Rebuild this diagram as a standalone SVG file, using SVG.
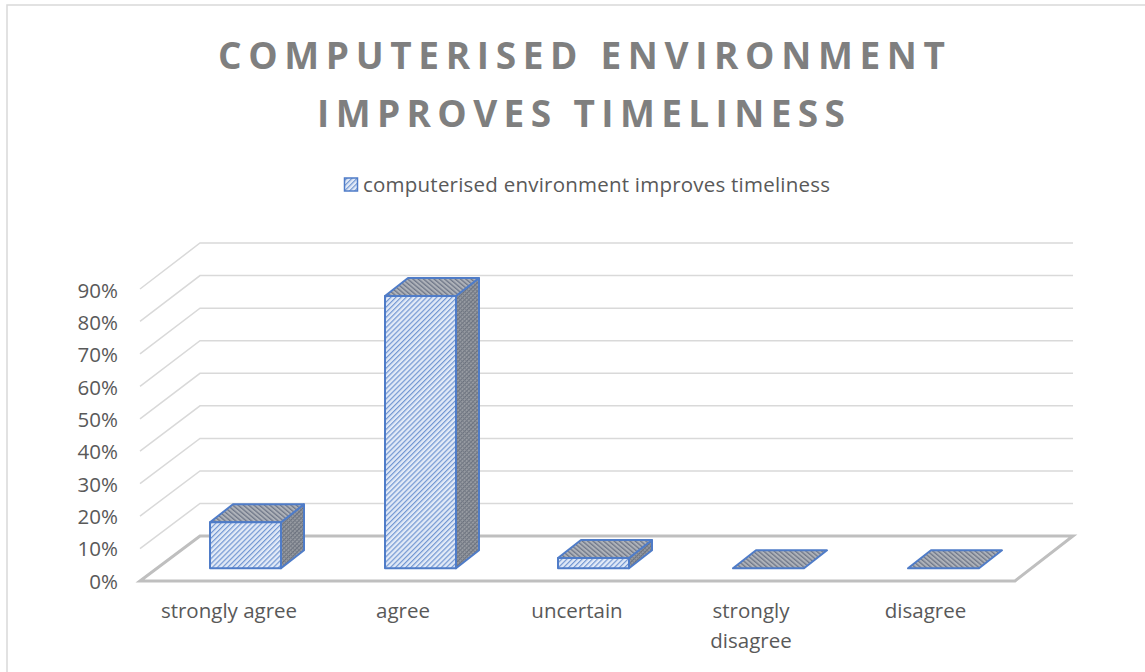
<svg xmlns="http://www.w3.org/2000/svg" width="1145" height="672" viewBox="0 0 1145 672">
<style>
.grid{stroke:#d9d9d9;stroke-width:1.5;fill:none}
.floor{stroke:#bfbfbf;stroke-width:3;fill:none;stroke-linejoin:miter}
.ax{font-family:"Open Sans","Liberation Sans",sans-serif;font-size:20.5px;fill:#595959}
.title{font-family:"Open Sans","Liberation Sans",sans-serif;font-size:37px;font-weight:bold;fill:#7f7f7f}
.front{fill:url(#pFront);stroke:#4f7cc8;stroke-width:2;stroke-linejoin:round}
.top{fill:url(#pTop);stroke:#4f7cc8;stroke-width:2;stroke-linejoin:round}
.side{fill:url(#pSide);stroke:#4f7cc8;stroke-width:2;stroke-linejoin:round}
</style>
<defs>
<pattern id="pFront" patternUnits="userSpaceOnUse" width="3.6" height="3.6" patternTransform="rotate(45)">
<rect width="3.6" height="3.6" fill="#e2eaf7"/>
<rect x="0" y="0" width="1.2" height="3.6" fill="#7196d2"/>
</pattern>
<pattern id="pTop" patternUnits="userSpaceOnUse" width="3.4" height="3.4" patternTransform="rotate(-50)">
<rect width="3.4" height="3.4" fill="#aeb2b9"/>
<rect x="0" y="0" width="1.3" height="3.4" fill="#6f7788"/>
</pattern>
<pattern id="pSide" patternUnits="userSpaceOnUse" width="3" height="3" patternTransform="rotate(45)">
<rect width="3" height="3" fill="#969aa1"/>
<rect x="0" y="0" width="1" height="3" fill="#6a707c"/>
<rect x="0" y="0" width="3" height="1" fill="#787e89"/>
</pattern>
</defs>
<rect x="7" y="5" width="1150" height="680" fill="#ffffff" stroke="#d9d9d9" stroke-width="1.5"/>
<g id="title">
<text class="title" x="581.5" y="69" text-anchor="middle" textLength="727" lengthAdjust="spacing">COMPUTERISED ENVIRONMENT</text>
<text class="title" x="581" y="127" text-anchor="middle" textLength="528" lengthAdjust="spacing">IMPROVES TIMELINESS</text>
</g>
<g id="legend">
<rect x="344.5" y="178" width="13" height="13" fill="url(#pFront)" stroke="#4f7cc8" stroke-width="1.5"/>
<text class="ax" x="363" y="192" textLength="467" lengthAdjust="spacing">computerised environment improves timeliness</text>
</g>
<g id="gridlines">
<path class="grid" d="M140,548.6 L200,503.5 H1073"/>
<path class="grid" d="M140,516.1 L200,470.9 H1073"/>
<path class="grid" d="M140,483.7 L200,438.4 H1073"/>
<path class="grid" d="M140,451.2 L200,405.8 H1073"/>
<path class="grid" d="M140,418.8 L200,373.3 H1073"/>
<path class="grid" d="M140,386.3 L200,340.7 H1073"/>
<path class="grid" d="M140,353.9 L200,308.2 H1073"/>
<path class="grid" d="M140,321.4 L200,275.6 H1073"/>
<path class="grid" d="M140,289 L200,243 H1073"/>
<path class="floor" d="M140,581 L200,536 H1073 L1015,581 Z"/>
</g>
<g id="axis-labels">
<text class="ax" x="118" y="588.5" text-anchor="end">0%</text>
<text class="ax" x="118" y="556.2" text-anchor="end">10%</text>
<text class="ax" x="118" y="523.9" text-anchor="end">20%</text>
<text class="ax" x="118" y="491.6" text-anchor="end">30%</text>
<text class="ax" x="118" y="459.3" text-anchor="end">40%</text>
<text class="ax" x="118" y="427" text-anchor="end">50%</text>
<text class="ax" x="118" y="394.7" text-anchor="end">60%</text>
<text class="ax" x="118" y="362.4" text-anchor="end">70%</text>
<text class="ax" x="118" y="330.1" text-anchor="end">80%</text>
<text class="ax" x="118" y="297.8" text-anchor="end">90%</text>
</g>
<g id="bar-strongly-agree">
<polygon class="side" points="281,522.3 304,504.3 304,550.3 281,568.3"/>
<polygon class="top" points="210,522.3 281,522.3 304,504.3 233,504.3"/>
<rect class="front" x="210" y="522.3" width="71" height="46"/>
</g>
<g id="bar-agree">
<polygon class="side" points="456,296 479,278 479,550.3 456,568.3"/>
<polygon class="top" points="385,296 456,296 479,278 408,278"/>
<rect class="front" x="385" y="296" width="71" height="272.3"/>
</g>
<g id="bar-uncertain">
<polygon class="side" points="629,558 652,540 652,550.3 629,568.3"/>
<polygon class="top" points="558,558 629,558 652,540 581,540"/>
<rect class="front" x="558" y="558" width="71" height="10.3"/>
</g>
<g id="bar-strongly-disagree">
<polygon class="top" points="733,568.3 804,568.3 827,550.3 756,550.3"/>
</g>
<g id="bar-disagree">
<polygon class="top" points="908,568.3 979,568.3 1002,550.3 931,550.3"/>
</g>
<g id="category-labels">
<text class="ax" x="229" y="618" text-anchor="middle">strongly agree</text>
<text class="ax" x="403" y="618" text-anchor="middle">agree</text>
<text class="ax" x="577" y="618" text-anchor="middle">uncertain</text>
<text class="ax" x="751" y="618" text-anchor="middle">strongly</text>
<text class="ax" x="751" y="648" text-anchor="middle">disagree</text>
<text class="ax" x="925.5" y="618" text-anchor="middle">disagree</text>
</g>
</svg>
